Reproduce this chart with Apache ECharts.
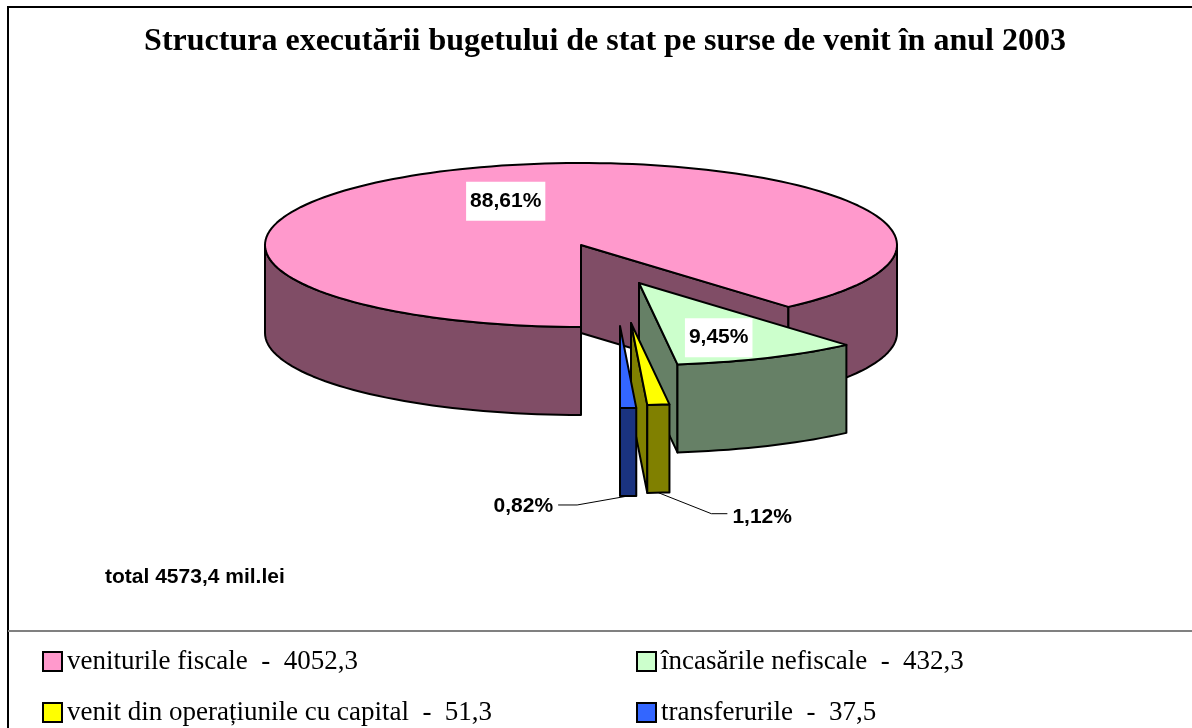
<!DOCTYPE html>
<html>
<head>
<meta charset="utf-8">
<title>Structura executării bugetului de stat 2003</title>
<script src="https://cdn.jsdelivr.net/npm/echarts@6/dist/echarts.min.js"></script>
<style>
html, body { margin: 0; padding: 0; background: #fff; }
#main { width: 1192px; height: 728px; }
</style>
</head>
<body>
<div id="main"></div>
<script>
// data
const categories = ['veniturile fiscale', 'încasările nefiscale', 'venit din operațiunile cu capital', 'transferurile'];
const values = [4052.3, 432.3, 51.3, 37.5];
const titleText = 'Structura executării bugetului de stat pe surse de venit în anul 2003';

const total = values.reduce((s, v) => s + v, 0);
const fmt = (v, d) => v.toFixed(d).replace('.', ',');

// look of the 3d pie
const topColors = ['#FF99CC', '#CCFFCC', '#FFFF00', '#3366FF'];
const sideColors = ['#804D66', '#668066', '#808000', '#1A3380'];
const explode = [[0, 0], [58, 38], [50, 78], [39, 81]];
const labelPos = [{ inside: [0.68, 0.57] }, { inside: [0.62, 0.73] }, { dx: 53, dy: 21, len: 16 }, { dx: -51, dy: 9, len: -19 }];
const pie = { cx: 581, cy: 245, rx: 316, ry: 82, h: 88, start: 90 };

// start angle of every slice, clockwise from 6 o'clock
const starts = [];
values.reduce((acc, v) => { starts.push(acc); return acc + v / total * 360; }, pie.start);

const rad = a => a * Math.PI / 180;
function pt(ox, oy, a, dy) {
	return [ox + pie.rx * Math.cos(rad(a)), oy + pie.ry * Math.sin(rad(a)) + (dy || 0)];
}
function arc(ox, oy, a0, a1, dy) {
	const n = Math.max(2, Math.ceil(Math.abs(a1 - a0) / 2));
	const pts = [];
	for (let k = 0; k <= n; k++) pts.push(pt(ox, oy, a0 + (a1 - a0) * k / n, dy));
	return pts;
}

function sliceRenderer(i) {
	return function (params, api) {
		const v = api.value(0);
		const a0 = starts[i], a1 = a0 + v / total * 360;
		const ox = pie.cx + explode[i][0], oy = pie.cy + explode[i][1];
		const h = pie.h;
		const edge = { stroke: '#000', lineWidth: 2, lineJoin: 'round' };
		const kids = [];

		// cut faces that look towards the viewer
		[[a0, Math.cos(rad(a0)) < -0.01], [a1, Math.cos(rad(a1)) > 0.01]].forEach(([a, show]) => {
			if (!show) return;
			const p = pt(ox, oy, a);
			kids.push({ type: 'polygon', shape: { points: [[ox, oy], p, [p[0], p[1] + h], [ox, oy + h]] },
				style: Object.assign({ fill: sideColors[i] }, edge) });
		});

		// outer rim, front half only
		[0, 360, 720].forEach(base => {
			const s = Math.max(a0, base), e = Math.min(a1, base + 180);
			if (e <= s) return;
			const pts = arc(ox, oy, s, e).concat(arc(ox, oy, e, s, h));
			kids.push({ type: 'polygon', shape: { points: pts }, style: Object.assign({ fill: sideColors[i] }, edge) });
		});

		// top face
		kids.push({ type: 'polygon', shape: { points: [[ox, oy]].concat(arc(ox, oy, a0, a1)) },
			style: Object.assign({ fill: topColors[i] }, edge) });

		// percentage label
		const mid = (a0 + a1) / 2;
		const txt = fmt(v / total * 100, 2) + '%';
		const lp = labelPos[i];
		const font = 'bold 21px "Liberation Sans", Arial, sans-serif';
		if (lp.inside) {
			kids.push({ type: 'text', z2: 10, style: {
				text: txt, x: ox + lp.inside[0] * pie.rx * Math.cos(rad(mid)), y: oy + lp.inside[1] * pie.ry * Math.sin(rad(mid)),
				fill: '#000', font: font, align: 'center', verticalAlign: 'middle',
				backgroundColor: '#fff', padding: [9, 4]
			} });
		} else {
			const b = pt(ox, oy, mid, h);
			const elbow = [b[0] + lp.dx, b[1] + lp.dy];
			const end = [elbow[0] + lp.len, elbow[1]];
			kids.push({ type: 'polyline', shape: { points: [b, elbow, end] }, style: { stroke: '#000', lineWidth: 1, fill: null } });
			kids.push({ type: 'text', style: {
				text: txt, x: end[0] + (lp.len > 0 ? 5 : -5), y: end[1] + (lp.len > 0 ? 4 : 1),
				fill: '#000', font: font, align: lp.len > 0 ? 'left' : 'right', verticalAlign: 'middle'
			} });
		}
		return { type: 'group', children: kids };
	};
}

const legendLeft = [42, 636, 42, 636];
const legendTop = [648, 648, 699, 699];

const myChart = echarts.init(document.getElementById('main'));
myChart.setOption({
	animation: false,
	color: topColors,
	title: {
		text: titleText,
		left: 600,
		top: 21,
		textAlign: 'center',
		textStyle: { fontFamily: '"Liberation Serif", "Times New Roman", serif', fontWeight: 'bold', fontSize: 32, color: '#000' }
	},
	legend: categories.map((c, i) => ({
		data: [c],
		left: legendLeft[i],
		top: legendTop[i],
		padding: 0,
		icon: 'rect',
		itemWidth: 19,
		itemHeight: 19,
		selectedMode: false,
		itemStyle: { borderColor: '#000', borderWidth: 2 },
		textStyle: { fontFamily: '"Liberation Serif", "Times New Roman", serif', fontSize: 27, color: '#000' },
		formatter: n => n + '  -  ' + fmt(values[i], 1)
	})),
	graphic: [
		{ type: 'rect', shape: { x: 8, y: 7, width: 1300, height: 900 }, style: { fill: null, stroke: '#000', lineWidth: 2 }, silent: true },
		{ type: 'line', shape: { x1: 8, y1: 631, x2: 1192, y2: 631 }, style: { stroke: '#808080', lineWidth: 2 }, silent: true },
		{ type: 'text', left: 105, top: 567, style: { text: 'total ' + fmt(total, 1) + ' mil.lei', fill: '#000',
			font: 'bold 21px "Liberation Sans", Arial, sans-serif' }, silent: true }
	],
	series: categories.map((c, i) => ({
		type: 'custom',
		name: c,
		coordinateSystem: 'none',
		silent: true,
		z: 2 + i,
		itemStyle: { color: topColors[i] },
		renderItem: sliceRenderer(i),
		data: [[values[i]]]
	}))
});
</script>
</body>
</html>
